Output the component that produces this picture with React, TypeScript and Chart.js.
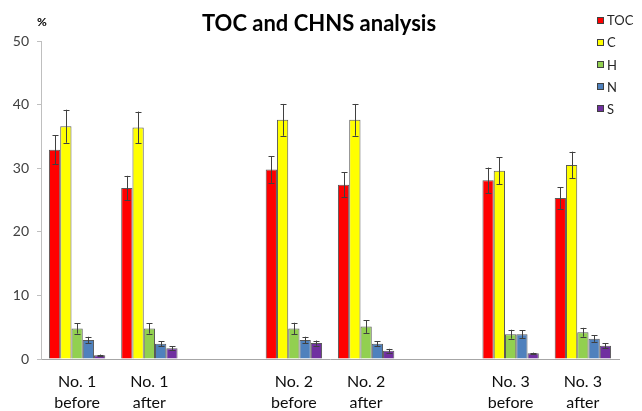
import { useEffect, useRef } from "react";
import { Chart, registerables } from "chart.js";

Chart.register(...registerables);

const categories: (string | string[])[] = [
  ["No. 1", "before"],
  ["No. 1", "after"],
  "",
  ["No. 2", "before"],
  ["No. 2", "after"],
  "",
  ["No. 3", "before"],
  ["No. 3", "after"],
];
const seriesNames = ["TOC", "C", "H", "N", "S"];
const seriesColors = ["#FF0000", "#FFFF00", "#92D050", "#4F81BD", "#7030A0"];

const tocValues = [32.9, 26.9, null, 29.8, 27.4, null, 28.1, 25.3];
const tocErrors = [2.3, 1.9, null, 2.1, 2.0, null, 2.0, 1.7];
const cValues = [36.6, 36.4, null, 37.6, 37.6, null, 29.6, 30.5];
const cErrors = [2.6, 2.5, null, 2.5, 2.5, null, 2.1, 2.1];
const hValues = [4.8, 4.8, null, 4.8, 5.1, null, 3.9, 4.2];
const hErrors = [0.8, 0.8, null, 0.9, 1.0, null, 0.7, 0.7];
const nValues = [3.0, 2.4, null, 3.0, 2.4, null, 3.9, 3.2];
const nErrors = [0.5, 0.4, null, 0.5, 0.4, null, 0.6, 0.5];
const sValues = [0.6, 1.7, null, 2.5, 1.3, null, 0.9, 2.1];
const sErrors = [0.1, 0.3, null, 0.4, 0.3, null, 0.1, 0.4];

const yMin = 0;
const yMax = 50;
const yStep = 10;

const titleText = "TOC and CHNS analysis";
const yUnitText = "%";

const allValues = [tocValues, cValues, hValues, nValues, sValues];
const allErrors = [tocErrors, cErrors, hErrors, nErrors, sErrors];

const FONT = "Lato, 'Open Sans', sans-serif";

const errorBarPlugin = {
  id: "errorBars",
  afterDatasetsDraw(chart: any) {
    const ctx = chart.ctx;
    const yScale = chart.scales.y;
    ctx.save();
    ctx.strokeStyle = "#404040";
    ctx.lineWidth = 1;
    chart.data.datasets.forEach((ds: any, i: number) => {
      const meta = chart.getDatasetMeta(i);
      const errs = allErrors[i];
      meta.data.forEach((el: any, j: number) => {
        const v = ds.data[j];
        const e = errs[j];
        if (v == null || e == null) return;
        const x = Math.round(el.x) + 0.5;
        const yt = yScale.getPixelForValue(v + e);
        const yb = yScale.getPixelForValue(v - e);
        const cap = 3;
        ctx.beginPath();
        ctx.moveTo(x, yt);
        ctx.lineTo(x, yb);
        ctx.moveTo(x - cap, Math.round(yt) + 0.5);
        ctx.lineTo(x + cap, Math.round(yt) + 0.5);
        ctx.moveTo(x - cap, Math.round(yb) + 0.5);
        ctx.lineTo(x + cap, Math.round(yb) + 0.5);
        ctx.stroke();
      });
    });
    ctx.restore();
  },
};

const decorPlugin = {
  id: "decor",
  afterDraw(chart: any) {
    const ctx = chart.ctx;
    ctx.save();
    // title
    ctx.fillStyle = "#000000";
    ctx.font = `bold 22px ${FONT}`;
    ctx.textAlign = "center";
    ctx.textBaseline = "middle";
    ctx.fillText(titleText, 319, 24);
    // unit label
    ctx.font = `bold 12px ${FONT}`;
    ctx.fillText(yUnitText, 42, 22);
    // legend
    ctx.textAlign = "left";
    ctx.font = `13px ${FONT}`;
    chart.data.datasets.forEach((ds: any, i: number) => {
      const cy = 20 + i * 22.2;
      ctx.fillStyle = ds.backgroundColor;
      ctx.fillRect(597, Math.round(cy - 3.5), 7, 7);
      ctx.strokeStyle = "#404040";
      ctx.lineWidth = 1;
      ctx.strokeRect(597.5, Math.round(cy - 3.5) + 0.5, 6, 6);
      ctx.fillStyle = "#262626";
      ctx.fillText(ds.label, 607, cy + 1);
    });
    ctx.restore();
  },
};

export default function App() {
  const ref = useRef<HTMLCanvasElement | null>(null);
  useEffect(() => {
    document.body.style.margin = "0";
    if (!ref.current) return;
    const chart = new Chart(ref.current, {
      type: "bar",
      data: {
        labels: categories,
        datasets: seriesNames.map((name, i) => ({
          label: name,
          data: allValues[i],
          backgroundColor: seriesColors[i],
          borderColor: "#595959",
          borderWidth: 1,
          categoryPercentage: 0.78,
          barPercentage: 1.0,
        })),
      },
      options: {
        responsive: false,
        animation: false,
        layout: { padding: { top: 41, right: 23, left: 0, bottom: 0 } },
        plugins: {
          legend: { display: false },
          title: { display: false },
          tooltip: { enabled: false },
        },
        scales: {
          x: {
            grid: { display: false, drawTicks: false },
            border: { display: true, color: "#a6a6a6", width: 1 },
            ticks: {
              color: "#0d0d0d",
              font: { family: FONT, size: 16, lineHeight: 1.31 },
              padding: 12,
              maxRotation: 0,
              autoSkip: false,
            },
            afterFit(scale: any) {
              scale.height = 52;
            },
          },
          y: {
            min: yMin,
            max: yMax,
            ticks: {
              stepSize: yStep,
              color: "#404040",
              font: { family: FONT, size: 14 },
              padding: 8,
            },
            grid: {
              drawOnChartArea: false,
              drawTicks: true,
              tickLength: 4,
              color: "#bfbfbf",
            },
            border: { display: true, color: "#bfbfbf", width: 1 },
            afterFit(scale: any) {
              scale.width = 41;
            },
          },
        },
      },
      plugins: [errorBarPlugin, decorPlugin],
    });
    return () => chart.destroy();
  }, []);
  return <canvas ref={ref} width={642} height={411} style={{ display: "block" }} />;
}
